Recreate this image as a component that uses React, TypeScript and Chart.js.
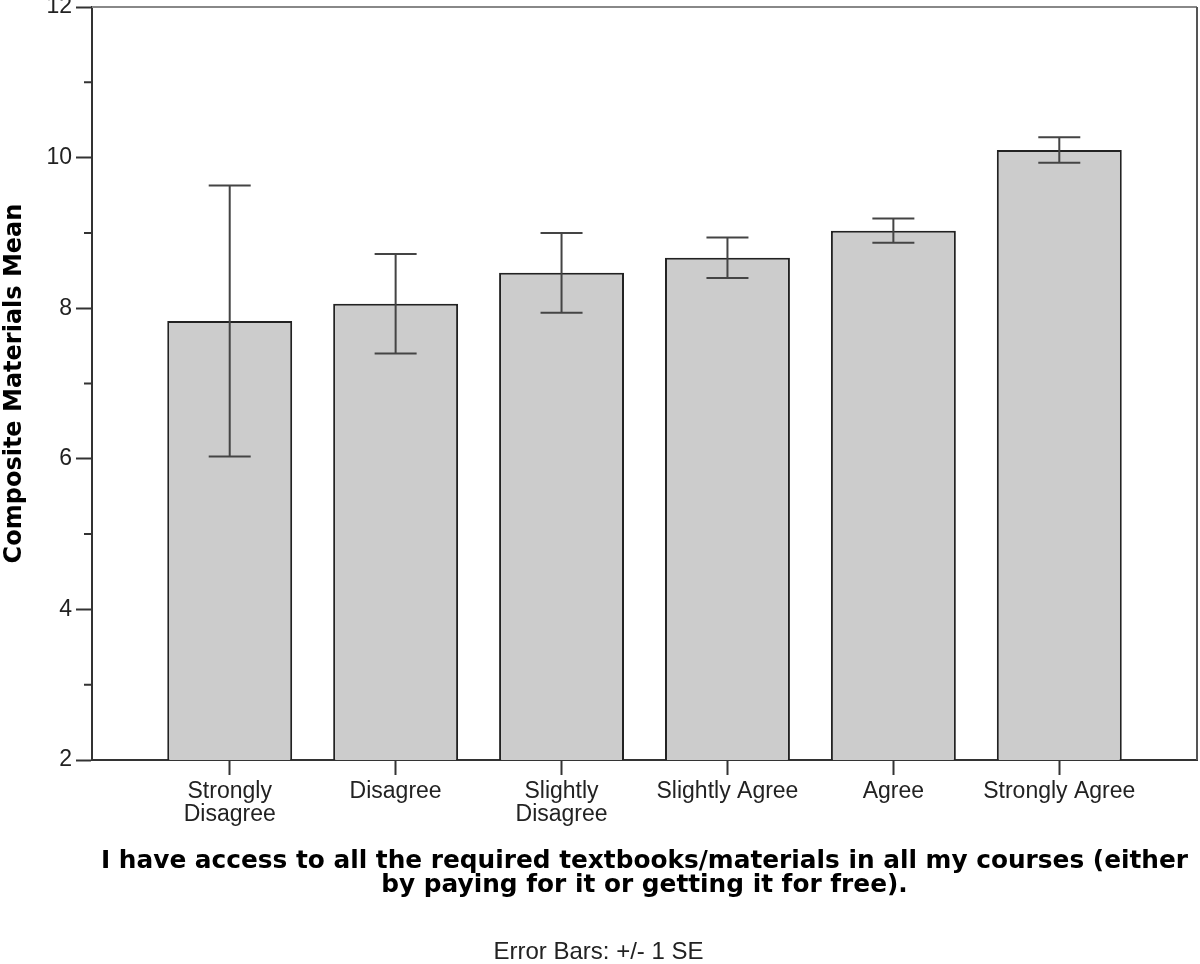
import { useEffect, useRef } from "react";
import { Chart, registerables } from "chart.js";

Chart.register(...registerables);

// categories on the x axis (multi-line where the reference wraps)
const categories: (string | string[])[] = [
    ["Strongly", "Disagree"],
    "Disagree",
    ["Slightly", "Disagree"],
    "Slightly Agree",
    "Agree",
    "Strongly Agree",
];

// composite materials mean per answer, and its standard error
const means = [7.83, 8.06, 8.47, 8.67, 9.03, 10.1];
const stdErr = [1.8, 0.66, 0.53, 0.27, 0.16, 0.17];

const yTicks = [2, 3, 4, 5, 6, 7, 8, 9, 10, 11, 12];

const xTitle = [
    "I have access to all the required textbooks/materials in all my courses (either",
    "by paying for it or getting it for free).",
];

const tickFont = { family: "'Liberation Sans', Arial, sans-serif", size: 23, lineHeight: 1 };

// error bars drawn on top of the bars, through the scales
const errorBars = {
    id: "errorBars",
    afterDatasetsDraw(chart: Chart) {
        const { ctx } = chart;
        const xs = chart.scales.x;
        const ys = chart.scales.y;
        ctx.save();
        ctx.strokeStyle = "#444";
        ctx.lineWidth = 2;
        means.forEach((m, i) => {
            const x = xs.getPixelForValue(i);
            const top = ys.getPixelForValue(m + stdErr[i]);
            const bottom = ys.getPixelForValue(m - stdErr[i]);
            ctx.beginPath();
            ctx.moveTo(x, top);
            ctx.lineTo(x, bottom);
            ctx.moveTo(x - 21, top);
            ctx.lineTo(x + 21, top);
            ctx.moveTo(x - 21, bottom);
            ctx.lineTo(x + 21, bottom);
            ctx.stroke();
        });
        ctx.restore();
    },
};

// top/right frame and the short minor ticks on the value axis
const frame = {
    id: "frame",
    afterDraw(chart: Chart) {
        const { ctx, chartArea } = chart;
        const ys = chart.scales.y;
        ctx.save();
        ctx.lineWidth = 2;
        ctx.strokeStyle = "#888";
        ctx.beginPath();
        ctx.moveTo(chartArea.left, chartArea.top);
        ctx.lineTo(chartArea.right, chartArea.top);
        ctx.stroke();
        ctx.strokeStyle = "#555";
        ctx.beginPath();
        ctx.moveTo(chartArea.right, chartArea.top);
        ctx.lineTo(chartArea.right, chartArea.bottom);
        ctx.stroke();
        ctx.strokeStyle = "#333";
        ctx.beginPath();
        yTicks.filter((v) => v % 2 === 1).forEach((v) => {
            const y = ys.getPixelForValue(v);
            ctx.moveTo(chartArea.left - 8, y);
            ctx.lineTo(chartArea.left, y);
        });
        ctx.stroke();
        ctx.restore();
    },
};

export default function App() {
    const canvasRef = useRef<HTMLCanvasElement>(null);

    useEffect(() => {
        if (canvasRef.current === null) return;
        const chart = new Chart(canvasRef.current, {
            type: "bar",
            data: {
                datasets: [
                    {
                        data: means.map((m, i) => ({ x: i, y: m })),
                        backgroundColor: "#cccccc",
                        borderColor: "#222",
                        borderWidth: 2,
                        borderSkipped: "bottom",
                        barPercentage: 0.753,
                        categoryPercentage: 1,
                    },
                ],
            },
            options: {
                animation: false,
                responsive: true,
                maintainAspectRatio: false,
                layout: { padding: { top: 7, right: 3, left: 0, bottom: 0 } },
                plugins: {
                    legend: { display: false },
                    tooltip: { enabled: false },
                    subtitle: {
                        display: true,
                        position: "bottom",
                        align: "center",
                        text: "Error Bars: +/- 1 SE",
                        color: "#222",
                        font: { family: "'Liberation Sans', Arial, sans-serif", size: 24, weight: "normal", lineHeight: 1 },
                        padding: { top: 0, bottom: 0 },
                    },
                },
                scales: {
                    x: {
                        type: "linear",
                        min: -0.83,
                        max: 5.83,
                        offset: false,
                        afterBuildTicks: (axis: any) => {
                            axis.ticks = categories.map((_, i) => ({ value: i }));
                        },
                        afterFit: (axis: any) => {
                            axis.height = 180;
                            axis.paddingLeft = 0;
                            axis.paddingRight = 0;
                        },
                        grid: {
                            offset: false,
                            drawOnChartArea: false,
                            tickLength: 15,
                            tickColor: "#333",
                            tickWidth: 2,
                        },
                        border: { color: "#333", width: 2 },
                        ticks: {
                            autoSkip: false,
                            maxRotation: 0,
                            padding: 5,
                            color: "#222",
                            font: tickFont,
                            callback: (v: any) => categories[v as number],
                        },
                        title: {
                            display: true,
                            text: xTitle,
                            color: "#000",
                            font: { family: "'DejaVu Sans', Verdana, sans-serif", size: 24.8, weight: "bold", lineHeight: 0.95 },
                            padding: { top: 0, bottom: 43 },
                        },
                    },
                    y: {
                        min: 2,
                        max: 12,
                        afterBuildTicks: (axis: any) => {
                            axis.ticks = yTicks.map((v) => ({ value: v }));
                        },
                        afterFit: (axis: any) => {
                            axis.width = 92;
                            axis.paddingTop = 0;
                            axis.paddingBottom = 0;
                        },
                        grid: {
                            drawOnChartArea: false,
                            tickLength: 16,
                            tickWidth: 2,
                            tickColor: (c: any) => (c.tick && c.tick.value % 2 === 0 ? "#333" : "rgba(0,0,0,0)"),
                        },
                        border: { color: "#333", width: 2 },
                        ticks: {
                            padding: 4,
                            color: "#222",
                            font: tickFont,
                            callback: (v: any) => ((v as number) % 2 === 0 ? String(v) : ""),
                        },
                        title: {
                            display: true,
                            text: "Composite Materials Mean",
                            color: "#000",
                            font: { family: "'DejaVu Sans', Verdana, sans-serif", size: 24, weight: "bold", lineHeight: 1 },
                            padding: { top: 3, bottom: 0 },
                        },
                    },
                },
            },
            plugins: [errorBars, frame],
        });
        return () => {
            chart.destroy();
        };
    }, []);

    return (
        <div style={{ position: "absolute", left: 0, top: 0, width: 1200, height: 964, background: "#fff" }}>
            <canvas ref={canvasRef} />
        </div>
    );
}
